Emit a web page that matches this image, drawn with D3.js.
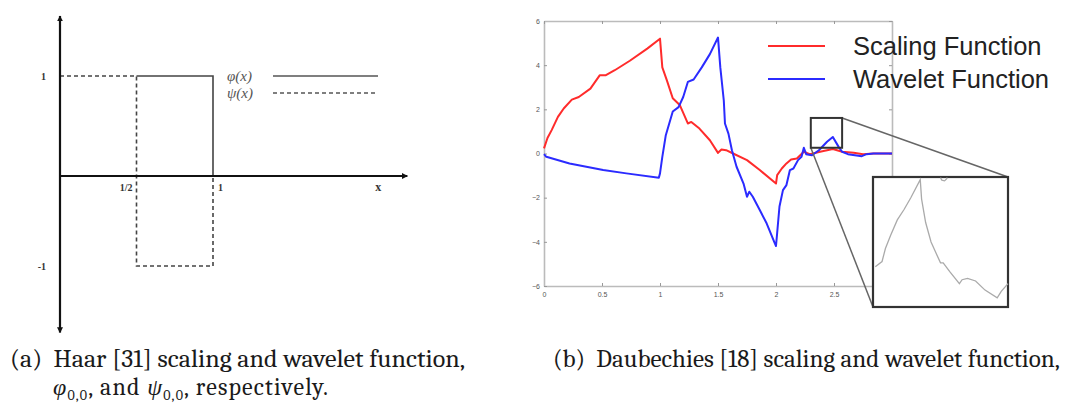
<!DOCTYPE html>
<html>
<head>
<meta charset="utf-8">
<script src="https://cdn.jsdelivr.net/npm/d3@7"></script>
<style>
  body { margin: 0; background: #fff; }
  svg { display: block; }
</style>
</head>
<body>
<div id="chart"></div>
<script>
// (a) Haar functions as [x, value] steps
const haarPhi = [[0, 1], [1, 1], [1, 0]];
const haarPsi = [[0, 1], [0.5, 1], [0.5, -1], [1, -1], [1, 0]];
const haarYTicks = [1, -1];
const haarXLabels = [['1/2', 0.5], ['1', 1]];
const haarLegend = ['φ(x)', 'ψ(x)'];

// (b) Daubechies curves
const scalingPts = [[0,0.23],[0.03,0.7],[0.066,1.06],[0.12,1.66],[0.17,2.04],[0.24,2.44],[0.3,2.56],[0.4,2.94],
  [0.48,3.54],[0.53,3.54],[0.61,3.77],[0.74,4.2],[0.89,4.75],[1.0,5.2],[1.02,3.9],[1.06,3.3],[1.11,2.5],
  [1.17,2.2],[1.24,1.36],[1.27,1.43],[1.34,1.13],[1.43,0.6],[1.5,0.03],[1.53,0.18],[1.57,0.15],[1.63,0],
  [1.75,-0.3],[1.86,-0.75],[2.0,-1.36],[2.01,-0.98],[2.05,-0.68],[2.09,-0.45],[2.13,-0.27],[2.18,-0.23],
  [2.24,0.08],[2.29,-0.03],[2.38,0.08],[2.49,0.2],[2.57,0.08],[2.67,0.03],[2.75,-0.03],[2.84,0],[3.0,0]];
const waveletPts = [[0,-0.03],[0.02,-0.15],[0.22,-0.45],[0.51,-0.75],[0.71,-0.9],[0.99,-1.1],[1.0,-0.9],
  [1.02,-0.15],[1.05,0.83],[1.11,1.9],[1.16,2.1],[1.2,2.56],[1.24,3.24],[1.29,3.35],[1.36,3.9],[1.43,4.5],
  [1.5,5.25],[1.52,3.9],[1.55,2.4],[1.56,1.36],[1.59,0.9],[1.62,0.15],[1.66,-0.6],[1.72,-1.36],[1.75,-1.96],
  [1.77,-1.73],[1.8,-1.96],[1.86,-2.56],[1.92,-3.17],[1.99,-4.07],[2.0,-4.19],[2.01,-3.6],[2.03,-2.4],
  [2.06,-1.66],[2.09,-1.43],[2.12,-0.75],[2.15,-0.68],[2.19,-0.3],[2.22,-0.15],[2.24,0.26],[2.26,-0.03],
  [2.31,-0.08],[2.37,0.15],[2.44,0.53],[2.49,0.75],[2.54,0.3],[2.57,0.08],[2.62,-0.03],[2.74,-0.12],
  [2.78,-0.03],[2.84,0],[3.0,0]];
const dbXTicks = [0, 0.5, 1, 1.5, 2, 2.5, 3];
const dbYTicks = [-6, -4, -2, 0, 2, 4, 6];
const dbSeries = ['Scaling Function', 'Wavelet Function'];
const dbColors = ['#ff2b2b', '#2b2bff'];
// zoomed region [x0, x1, y0, y1] and the magnified trace inside the inset (unit box)
const zoomRegion = [2.30, 2.57, 0.26, 1.61];
const insetPts = [[0.017,0.31],[0.067,0.35],[0.092,0.45],[0.13,0.55],[0.18,0.67],[0.23,0.75],[0.28,0.84],
  [0.35,0.98],[0.36,0.83],[0.39,0.65],[0.43,0.5],[0.46,0.43],[0.5,0.34],[0.52,0.34],[0.57,0.27],[0.64,0.18],
  [0.66,0.21],[0.7,0.22],[0.76,0.2],[0.83,0.13],[0.92,0.07],[0.95,0.12],[1.0,0.18]];
const insetBump = [[0.5,0.995],[0.51,0.975],[0.53,0.97],[0.545,0.985],[0.55,0.995]];

const captionA = '(a)  Haar [31] scaling and wavelet function,';
const captionB = '(b)  Daubechies [18] scaling and wavelet function,';

const W = 1071, H = 403;

const svg = d3.select('#chart').append('svg')
  .attr('width', W).attr('height', H)
  .style('background', '#fff');

const defs = svg.append('defs');
defs.append('marker')
  .attr('id', 'arrow')
  .attr('viewBox', '0 0 10 10')
  .attr('refX', 9).attr('refY', 5)
  .attr('markerWidth', 6).attr('markerHeight', 6)
  .attr('markerUnits', 'userSpaceOnUse')
  .attr('orient', 'auto-start-reverse')
  .append('path')
    .attr('d', 'M0,0 L10,5 L0,10 z')
    .attr('fill', '#111');

// ---------- (a) Haar ----------
const xL = d3.scaleLinear().domain([0, 1]).range([60, 213]);
const yL = d3.scaleLinear().domain([1, 0, -1]).range([76, 176, 266]);
const gA = svg.append('g');
const lineL = d3.line().x(d => xL(d[0])).y(d => yL(d[1]));

gA.append('path')
  .attr('d', lineL(haarPhi))
  .attr('fill', 'none').attr('stroke', '#444').attr('stroke-width', 1.6);

// white under-stroke so the dashed psi reads on top of phi
gA.append('path')
  .attr('d', lineL(haarPsi.slice(0, 2)))
  .attr('fill', 'none').attr('stroke', '#fff').attr('stroke-width', 3);

gA.append('path')
  .attr('d', lineL(haarPsi))
  .attr('fill', 'none').attr('stroke', '#444').attr('stroke-width', 1.6)
  .attr('stroke-dasharray', '4,3');

// axes with arrows
gA.append('line')
  .attr('x1', xL(0)).attr('x2', xL(0))
  .attr('y1', yL(1.6)).attr('y2', yL(-1.74))
  .attr('stroke', '#111').attr('stroke-width', 2.2)
  .attr('marker-start', 'url(#arrow)').attr('marker-end', 'url(#arrow)');
gA.append('line')
  .attr('x1', xL(0)).attr('x2', xL(2.27))
  .attr('y1', yL(0)).attr('y2', yL(0))
  .attr('stroke', '#111').attr('stroke-width', 2.2)
  .attr('marker-end', 'url(#arrow)');

const yAxisL = d3.axisLeft(yL).tickValues(haarYTicks).tickSize(0).tickPadding(14)
  .tickFormat(d => d);
gA.append('g')
  .attr('transform', `translate(${xL(0)},0)`)
  .call(yAxisL)
  .call(g => g.select('.domain').remove())
  .selectAll('text')
    .attr('font-family', '"Liberation Serif", serif')
    .attr('font-weight', 'bold').attr('font-size', 10).attr('fill', '#333');

gA.selectAll('text.xlab')
  .data(haarXLabels)
  .enter().append('text')
    .attr('class', 'xlab')
    .attr('x', d => d[1] < 1 ? xL(d[1]) - 4 : xL(d[1]) + 5)
    .attr('y', yL(0) + 15)
    .attr('text-anchor', d => d[1] < 1 ? 'end' : 'start')
    .attr('font-family', '"Liberation Serif", serif')
    .attr('font-weight', 'bold').attr('font-size', 10).attr('fill', '#333')
    .text(d => d[0]);

gA.append('text')
  .attr('x', xL(2.08)).attr('y', yL(0) + 15)
  .attr('text-anchor', 'middle')
  .attr('font-family', '"Liberation Serif", serif')
  .attr('font-weight', 'bold').attr('font-size', 12).attr('fill', '#333')
  .text('x');

// legend
const legA = gA.selectAll('g.leg')
  .data(haarLegend)
  .enter().append('g')
    .attr('class', 'leg')
    .attr('transform', (d, i) => `translate(0,${76 + i * 17})`);
legA.append('text')
  .attr('x', 227).attr('y', 5)
  .attr('font-family', '"Liberation Serif", serif')
  .attr('font-style', 'italic').attr('font-size', 15).attr('fill', '#555')
  .text(d => d);
legA.append('line')
  .attr('x1', 273).attr('x2', 378).attr('y1', 0).attr('y2', 0)
  .attr('stroke', '#555').attr('stroke-width', 1.6)
  .attr('stroke-dasharray', (d, i) => i ? '4,3' : null);

// ---------- (b) Daubechies ----------
const xR = d3.scaleLinear().domain([0, 3]).range([544, 892]);
const yR = d3.scaleLinear().domain([-6, 6]).range([286, 21]);
const gB = svg.append('g');

const styleAxis = g => {
  g.select('.domain').attr('stroke', '#bbb').attr('stroke-width', 1.6);
  g.selectAll('.tick line').attr('stroke', '#999');
  g.selectAll('.tick text').attr('font-family', '"Liberation Sans", Arial, sans-serif')
    .attr('font-size', 7).attr('fill', '#555');
};

gB.append('g').attr('transform', `translate(0,${yR(-6)})`)
  .call(d3.axisBottom(xR).tickValues(dbXTicks).tickSizeInner(-3).tickSizeOuter(0).tickPadding(6)
    .tickFormat(d3.format('~g')))
  .call(styleAxis);
gB.append('g').attr('transform', `translate(${xR(0)},0)`)
  .call(d3.axisLeft(yR).tickValues(dbYTicks).tickSizeInner(-3).tickSizeOuter(0).tickPadding(4))
  .call(styleAxis);
gB.append('g').attr('transform', `translate(0,${yR(6)})`)
  .call(d3.axisTop(xR).tickValues(dbXTicks).tickSizeInner(-3).tickSizeOuter(0).tickFormat(''))
  .call(styleAxis);
gB.append('g').attr('transform', `translate(${xR(3)},0)`)
  .call(d3.axisRight(yR).tickValues(dbYTicks).tickSizeInner(-3).tickSizeOuter(0).tickFormat(''))
  .call(styleAxis);

const lineR = d3.line().x(d => xR(d[0])).y(d => yR(d[1]));
gB.selectAll('path.curve')
  .data([scalingPts, waveletPts])
  .enter().append('path')
    .attr('class', 'curve')
    .attr('d', lineR)
    .attr('fill', 'none')
    .attr('stroke', (d, i) => dbColors[i])
    .attr('stroke-width', 2)
    .attr('stroke-linejoin', 'round');

// legend
const legB = gB.selectAll('g.legb')
  .data(dbSeries)
  .enter().append('g')
    .attr('class', 'legb')
    .attr('transform', (d, i) => `translate(0,${46 + i * 33})`);
legB.append('line')
  .attr('x1', 768).attr('x2', 825).attr('y1', 0).attr('y2', 0)
  .attr('stroke', (d, i) => dbColors[i]).attr('stroke-width', 2);
legB.append('text')
  .attr('x', 853).attr('y', 9)
  .attr('font-family', '"Liberation Sans", Arial, sans-serif')
  .attr('font-size', 25.5).attr('fill', '#222')
  .text(d => d);

// zoom box, connectors and inset
const zx0 = xR(zoomRegion[0]), zx1 = xR(zoomRegion[1]);
const zy0 = yR(zoomRegion[3]), zy1 = yR(zoomRegion[2]);
const inset = {x: 873, y: 177, w: 135, h: 130};

gB.append('line')
  .attr('x1', zx1).attr('y1', zy0).attr('x2', inset.x + inset.w).attr('y2', inset.y)
  .attr('stroke', '#666').attr('stroke-width', 1.5);
gB.append('line')
  .attr('x1', zx0).attr('y1', zy1).attr('x2', inset.x).attr('y2', inset.y + inset.h)
  .attr('stroke', '#666').attr('stroke-width', 1.5);
gB.append('rect')
  .attr('x', zx0).attr('y', zy0).attr('width', zx1 - zx0).attr('height', zy1 - zy0)
  .attr('fill', 'none').attr('stroke', '#333').attr('stroke-width', 2);

gB.append('rect')
  .attr('x', inset.x).attr('y', inset.y).attr('width', inset.w).attr('height', inset.h)
  .attr('fill', '#fff').attr('stroke', '#333').attr('stroke-width', 2.2);

const xI = d3.scaleLinear().domain([0, 1]).range([inset.x, inset.x + inset.w]);
const yI = d3.scaleLinear().domain([0, 1]).range([inset.y + inset.h, inset.y]);
const lineI = d3.line().x(d => xI(d[0])).y(d => yI(d[1]));
[insetPts, insetBump].forEach(pts => {
  gB.append('path')
    .attr('d', lineI(pts))
    .attr('fill', 'none').attr('stroke', '#aaa').attr('stroke-width', 1.3);
});

// ---------- captions ----------
const capFont = 'Cambria, "Liberation Serif", "DejaVu Serif", serif';
svg.append('text')
  .attr('x', 10).attr('y', 367)
  .attr('font-family', capFont).attr('font-size', 24).attr('fill', '#1a1a1a')
  .attr('textLength', 455).attr('lengthAdjust', 'spacingAndGlyphs')
  .attr('xml:space', 'preserve')
  .text(captionA);

const line2 = svg.append('text')
  .attr('x', 53).attr('y', 395)
  .attr('font-family', capFont).attr('font-size', 24).attr('fill', '#1a1a1a')
  .attr('textLength', 275).attr('lengthAdjust', 'spacing');
line2.append('tspan').attr('font-style', 'italic').text('φ');
line2.append('tspan').attr('font-size', 14).attr('dy', 5).text('0,0');
line2.append('tspan').attr('dy', -5).text(', and ');
line2.append('tspan').attr('font-style', 'italic').text('ψ');
line2.append('tspan').attr('font-size', 14).attr('dy', 5).text('0,0');
line2.append('tspan').attr('dy', -5).text(', respectively.');

svg.append('text')
  .attr('x', 553).attr('y', 367)
  .attr('font-family', capFont).attr('font-size', 24).attr('fill', '#1a1a1a')
  .attr('textLength', 507).attr('lengthAdjust', 'spacingAndGlyphs')
  .attr('xml:space', 'preserve')
  .text(captionB);
</script>
</body>
</html>
